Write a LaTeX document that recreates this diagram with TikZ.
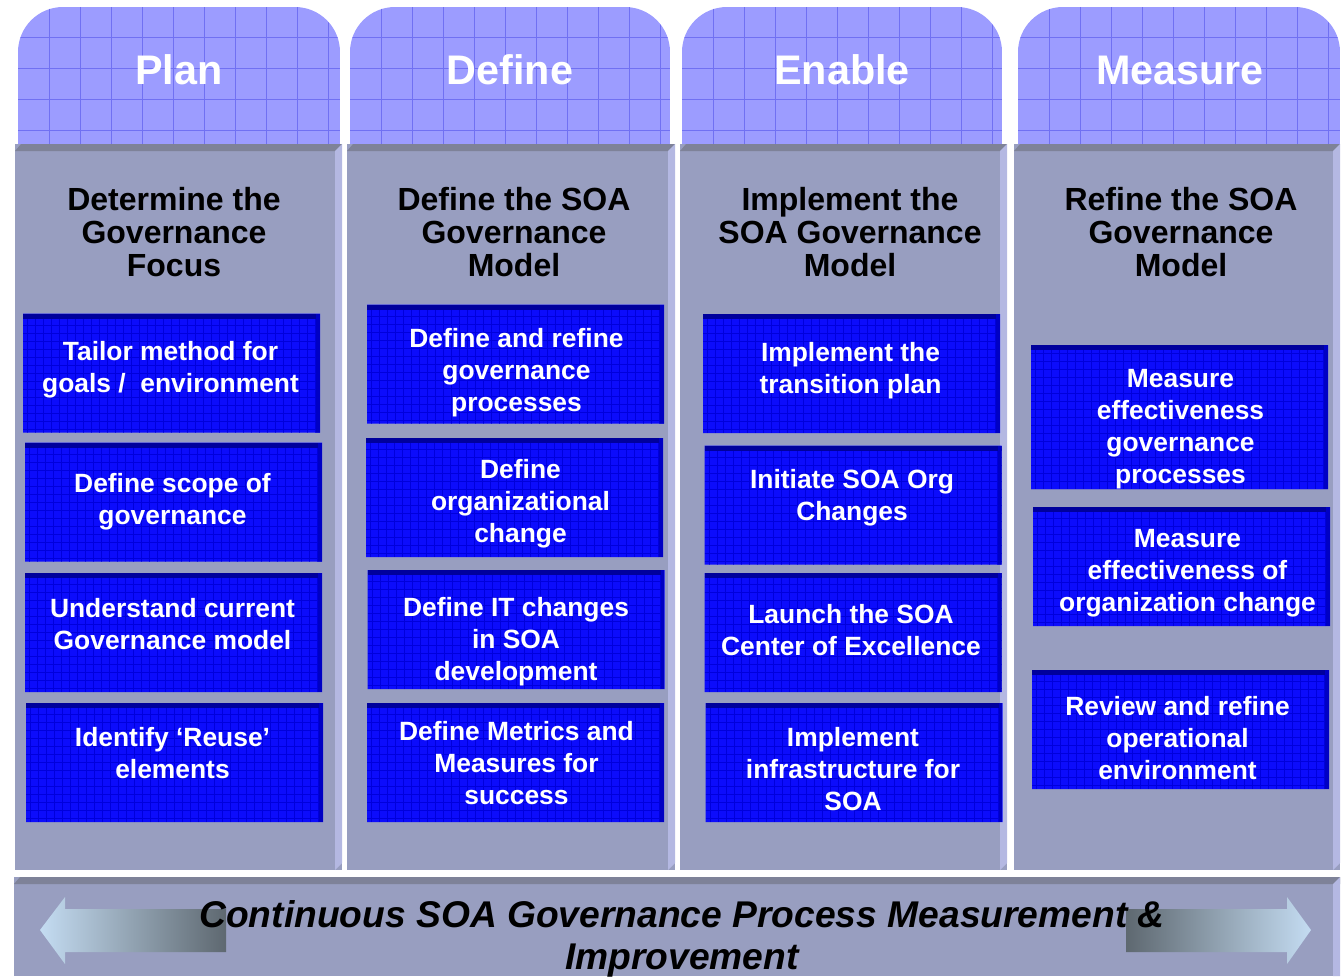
\documentclass[tikz,border=0pt]{standalone}
\usepackage{fontspec}
\setmainfont{Liberation Sans}
\usetikzlibrary{positioning,shapes.misc}
\definecolor{tabblue}{HTML}{9C9CFF}
\definecolor{tabline}{HTML}{7070F2}
\definecolor{colgray}{HTML}{989EC0}
\definecolor{coltop}{HTML}{7E8298}
\definecolor{colside}{HTML}{B4B8E2}
\definecolor{taskblue}{HTML}{0C0CFC}
\definecolor{taskgrid}{HTML}{0000DC}
\definecolor{taskdark}{HTML}{00009C}
\definecolor{taskside}{HTML}{0000C4}
\definecolor{arrowlight}{HTML}{C4DCF2}
\definecolor{arrowdark}{HTML}{5E6870}

\begin{document}
\begin{tikzpicture}[x=0.75pt,y=-0.75pt,
	phase/.style={anchor=base,text=white,font=\fontsize{31}{36}\selectfont\bfseries},
	focus/.style={align=center,font=\fontsize{24}{24.8}\selectfont\bfseries},
	tasktext/.style={text=white,align=center,inner sep=0pt,font=\fontsize{19.8}{24}\selectfont\bfseries},
	task/.style={chamfered rectangle,chamfered rectangle corners={north west,south east},
		chamfered rectangle xsep=3pt,chamfered rectangle ysep=3pt,
		fill=taskblue,inner sep=0pt,minimum width=222.75pt,minimum height=89.25pt,
		path picture={
			\draw[taskgrid,line width=0.4pt,step=6pt] (path picture bounding box.south west) grid (path picture bounding box.north east);
			\fill[taskdark] (path picture bounding box.north west) rectangle ([yshift=-4pt]path picture bounding box.north east);
			\fill[taskside] ([xshift=-3pt]path picture bounding box.north east) rectangle (path picture bounding box.south east);
		}},
	talltask/.style={task,minimum height=108pt},
	say/.style n args={3}{label={[tasktext,xshift={#1*0.75pt},yshift={-#2*0.75pt}]center:#3}}]
	\useasboundingbox (0,0) rectangle (1344,976);
	%tabs on top
	\foreach \xa/\xb in {18/340,350/670,682/1002,1018/1340}{
		\begin{scope}
			\clip (\xa,145) -- (\xa,52) arc[start angle=180,end angle=270,radius=45]
				-- ({\xb-45},7) arc[start angle=270,end angle=360,radius=45] -- (\xb,145) -- cycle;
			\fill[tabblue] (\xa,0) rectangle (\xb,145);
			\foreach \g in {31,62,...,330} \draw[tabline] ({\xa+\g},0) -- ({\xa+\g},145);
			\foreach \g in {37,68,99,130} \draw[tabline] (\xa,\g) -- (\xb,\g);
		\end{scope}
	}
	%gray columns
	\foreach \xa/\xb in {15/342,347/675,680/1007,1014/1340}{
		\fill[colgray] (\xa,144) rectangle (\xb,870);
		\fill[coltop] (\xa,151) -- ({\xa+6},144) -- (\xb,144) -- ({\xb-7},151) -- cycle;
		\fill[colside] ({\xb-7},151) -- (\xb,144) -- (\xb,863) -- ({\xb-7},870) -- cycle;
	}
	%bottom bar
	\fill[colgray] (14,877) rectangle (1340,976);
	\fill[coltop] (14,884) -- (20,877) -- (1340,877) -- (1340,884) -- cycle;
	\fill[colside] (1333,884) -- (1340,877) -- (1340,976) -- (1333,976) -- cycle;
	%phase names
	\node[phase] (plan) at (179,84) {Plan};
	\node[phase] (define) at (510,84) {Define};
	\node[phase] (enable) at (842,84) {Enable};
	\node[phase] (measure) at (1180,84) {Measure};
	%focus of each phase
	\node[focus] (planfocus) at (174,232) {Determine the\\Governance\\Focus};
	\node[focus] (definefocus) at (514,232) {Define the SOA\\Governance\\Model};
	\node[focus] (enablefocus) at (850,232) {Implement the\\SOA Governance\\Model};
	\node[focus] (measurefocus) at (1181,232) {Refine the SOA\\Governance\\Model};
	%plan
	\node[task,say={-1}{-3}{Tailor method for\\goals /\ \ environment}] (tailor) at (171.5,373) {};
	\node[task,say={-1}{0}{Define scope of\\governance}] (scope) at (173.5,502) {};
	\node[task,say={-1}{-8}{Understand current\\Governance model}] (current) at (173.5,632.5) {};
	\node[task,say={-2}{-9}{Identify `Reuse'\\elements}] (reuse) at (174.5,762.5) {};
	%define
	\node[task,say={1}{9}{Define and refine\\governance\\processes}] (refine) at (515.5,364) {};
	\node[task,say={6}{6}{Define\\organizational\\change}] (orgchange) at (514.5,497.5) {};
	\node[task,say={0}{12}{Define IT changes\\in SOA\\development}] (itchange) at (516,629.5) {};
	\node[task,say={1}{1}{Define Metrics and\\Measures for\\success}] (metrics) at (515.5,762.5) {};
	%enable
	\node[task,say={-1}{-3}{Implement the\\transition plan}] (transition) at (851.5,373.5) {};
	\node[task,say={-1}{-7}{Initiate SOA Org\\Changes}] (orginit) at (853,505) {};
	\node[task,say={-2}{-2}{Launch the SOA\\Center of Excellence}] (coe) at (853,632.5) {};
	\node[task,say={-1}{7}{Implement\\infrastructure for\\SOA}] (infra) at (854,762.5) {};
	%measure
	\node[talltask,say={1}{12}{Measure\\effectiveness\\governance\\processes}] (measgov) at (1179.5,417) {};
	\node[task,say={6}{7}{Measure\\effectiveness of\\organization change}] (measorg) at (1181.5,566.5) {};
	\node[task,say={-3}{9}{Review and refine\\operational\\environment}] (review) at (1180.5,729.5) {};
	%arrows at the bottom
	\shade[left color=arrowlight,right color=arrowdark] (40,930) -- (65,897) -- (65,909) -- (226,909)
		-- (226,952) -- (65,952) -- (65,964) -- cycle;
	\shade[left color=arrowdark,right color=arrowlight] (1311,930) -- (1287,897) -- (1287,909) -- (1126,909)
		-- (1126,952) -- (1287,952) -- (1287,964) -- cycle;
	\node[align=center,font=\fontsize{27.9}{31.5}\selectfont\bfseries\itshape] (loop) at (682,939)
		{Continuous SOA Governance Process Measurement \&\\Improvement};
\end{tikzpicture}
\end{document}
